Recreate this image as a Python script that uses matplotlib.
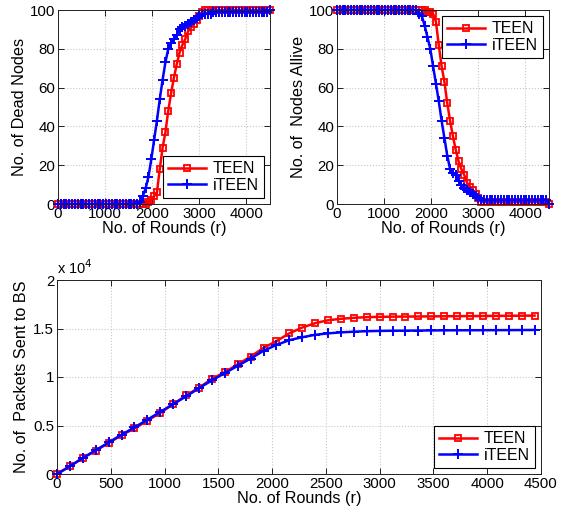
import matplotlib
matplotlib.use("Agg")
import matplotlib.pyplot as plt
from matplotlib.ticker import FuncFormatter, MultipleLocator
import numpy as np

plt.rcParams['font.family'] = ['Liberation Sans', 'DejaVu Sans']

# ---- data ----
rounds_top = list(range(0, 4501, 60))  # 76 points

dead_teen = [0]*32 + [1, 2, 4, 6, 18, 29, 37, 48, 57, 65, 72, 78, 82, 85, 89, 91, 93, 95, 97, 99] + [100]*24
dead_iteen = [0]*29 + [1, 4, 8, 14, 23, 33, 43, 54, 64, 73, 80, 83, 85, 87, 90, 91, 92, 93, 94, 95,
                       96, 97, 98, 98, 98, 98] + [99]*20 + [100]

alive_teen = [100]*32 + [99, 99, 98, 94, 82, 71, 63, 52, 43, 35, 28, 22, 18, 15, 11, 9, 7, 5, 3, 1] + [1]*23 + [0]
alive_iteen = [100]*29 + [98, 97, 92, 86, 80, 71, 62, 53, 43, 34, 25, 18, 16, 15, 12, 10, 8, 7, 6, 5,
                          4, 3, 2] + [2]*23 + [0]

rounds_bottom = list(range(0, 4441, 120))  # 38 points
packets_teen = [0, 800, 1650, 2400, 3200, 4000, 4700, 5500, 6300, 7200, 8100, 8900, 9800, 10500,
                11300, 12100, 13000, 13700, 14500, 15100, 15550, 15850, 16000, 16100, 16170, 16200,
                16220, 16230, 16240, 16250, 16260, 16270, 16280, 16290, 16300, 16310, 16320, 16330]
packets_iteen = [0, 800, 1650, 2450, 3250, 4050, 4800, 5600, 6400, 7200, 8000, 8850, 9650, 10400,
                 11150, 11900, 12700, 13300, 13800, 14100, 14350, 14500, 14600, 14670, 14720, 14750,
                 14770, 14780, 14790, 14800, 14810, 14815, 14820, 14825, 14830, 14835, 14840, 14850]

labels = ['TEEN', 'iTEEN']

# ---- figure ----
fig = plt.figure(figsize=(5.67, 5.13), dpi=100)
W, H = 567, 513

def add_axes(l, r, t, b):
    return fig.add_axes([l / W, 1 - b / H, (r - l) / W, (b - t) / H])

ax1 = add_axes(58, 270, 10, 204)
ax2 = add_axes(337, 549, 10, 204)
ax3 = add_axes(57, 541, 280, 474)

red_kw = dict(color='#ff0000', marker='s', markersize=5, markerfacecolor='none',
              markeredgewidth=1.3, linewidth=1.8, clip_on=False)
blue_kw = dict(color='#0000ff', marker='+', markersize=6.5, markeredgewidth=1.4,
               linewidth=1.8, clip_on=False)

LBL = 11.7

def style(ax):
    ax.grid(True, linestyle=':', color='#c8c8c8', linewidth=0.8)
    ax.set_axisbelow(True)
    ax.tick_params(direction='in', top=True, right=True, labelsize=10.8, length=4,
                   width=0.6, pad=2)
    for s in ax.spines.values():
        s.set_linewidth(0.7)
        s.set_color('#222222')

# top-left
ax1.plot(rounds_top, dead_teen, label=labels[0], **red_kw)
ax1.plot(rounds_top, dead_iteen, label=labels[1], **blue_kw)
ax1.set_xlim(0, 4500)
ax1.set_ylim(0, 100)
ax1.xaxis.set_major_locator(MultipleLocator(1000))
ax1.yaxis.set_major_locator(MultipleLocator(20))
ax1.set_xlabel('No. of Rounds (r)', fontsize=LBL, labelpad=0)
ax1.set_ylabel('No. of Dead Nodes', fontsize=LBL, labelpad=2)
style(ax1)

# top-right
ax2.plot(rounds_top, alive_teen, label=labels[0], **red_kw)
ax2.plot(rounds_top, alive_iteen, label=labels[1], **blue_kw)
ax2.set_xlim(0, 4500)
ax2.set_ylim(0, 100)
ax2.xaxis.set_major_locator(MultipleLocator(1000))
ax2.yaxis.set_major_locator(MultipleLocator(20))
ax2.set_xlabel('No. of Rounds (r)', fontsize=LBL, labelpad=0)
ax2.set_ylabel('No. of  Nodes Allive', fontsize=LBL, labelpad=2)
style(ax2)

# bottom
ax3.plot(rounds_bottom, packets_teen, label=labels[0], **red_kw)
ax3.plot(rounds_bottom, packets_iteen, label=labels[1], **blue_kw)
ax3.set_xlim(0, 4500)
ax3.set_ylim(0, 20000)
ax3.xaxis.set_major_locator(MultipleLocator(500))
ax3.yaxis.set_major_locator(MultipleLocator(5000))
ax3.yaxis.set_major_formatter(FuncFormatter(lambda v, p: '%g' % (v / 1e4)))
ax3.set_xlabel('No. of Rounds (r)', fontsize=LBL, labelpad=0)
ax3.set_ylabel('No. of  Packets Sent to BS', fontsize=LBL, labelpad=3)
ax3.text(0.0, 1.015, r'x 10$^{4}$', transform=ax3.transAxes, fontsize=10.5,
         ha='left', va='bottom')
style(ax3)

leg_kw = dict(fontsize=11.5, frameon=True, fancybox=False, edgecolor='black',
              framealpha=1, borderpad=0.3, handlelength=2.4, handletextpad=0.4,
              labelspacing=0.1, borderaxespad=0.4, numpoints=1)
for ax, loc in ((ax1, 'lower right'), (ax2, 'upper right'), (ax3, 'lower right')):
    lg = ax.legend(loc=loc, **leg_kw)
    lg.get_frame().set_linewidth(0.8)

fig.savefig('out.png', dpi=100)
